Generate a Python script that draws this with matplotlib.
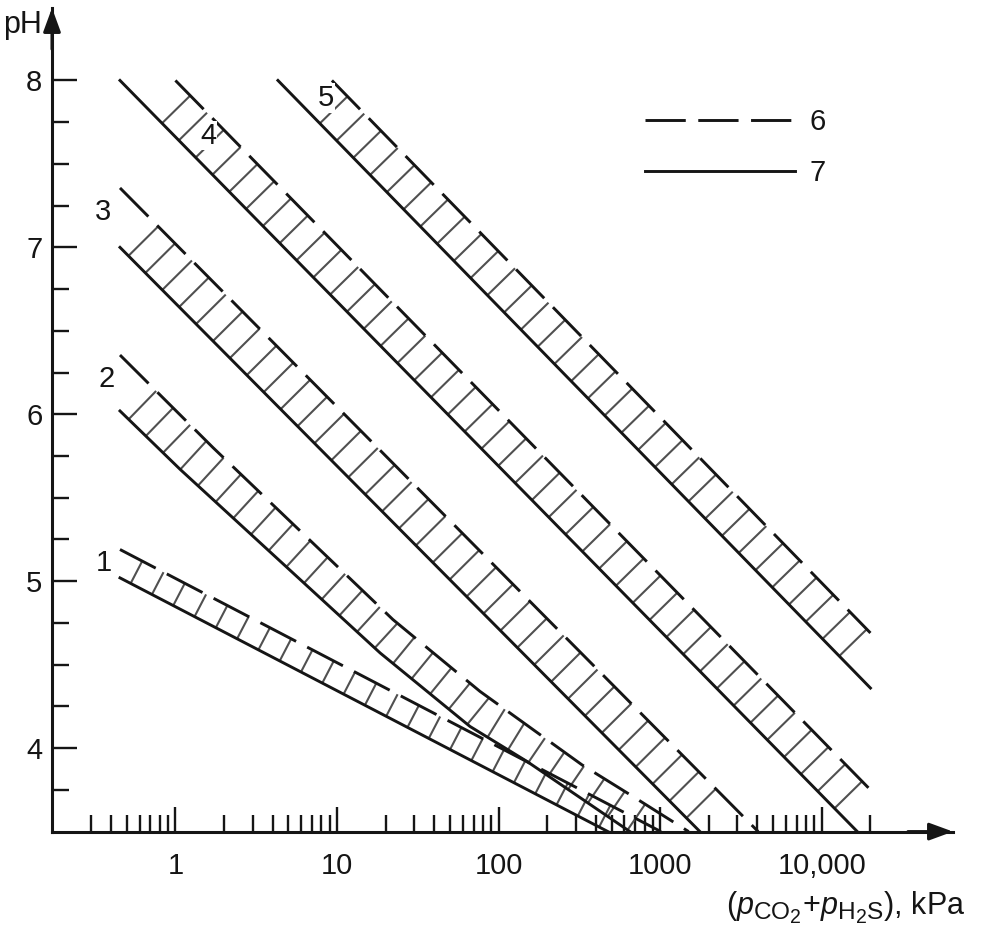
import numpy as np
import matplotlib
matplotlib.use('Agg')
import matplotlib.pyplot as plt
from matplotlib.collections import LineCollection
from matplotlib.lines import Line2D
from matplotlib.ticker import FixedLocator, FixedFormatter, NullFormatter

try:
    import matplotlib._mathtext as _mt
    _mt.SHRINK_FACTOR = 0.8
except Exception:
    pass

plt.rcParams['font.family'] = ['Liberation Sans', 'DejaVu Sans']
plt.rcParams['mathtext.fontset'] = 'custom'
plt.rcParams['mathtext.rm'] = 'Liberation Sans'
plt.rcParams['mathtext.it'] = 'Liberation Sans:italic'
plt.rcParams['lines.scale_dashes'] = False

# ---------------- data (pressure in kPa, pH) ----------------
band_labels = ['1', '2', '3', '4', '5']

b1_solid_p = [0.454, 475]
b1_solid_ph = [5.02, 3.5]
b1_dash_p = [0.454, 1010]
b1_dash_ph = [5.19, 3.5]

b2_solid_p = [0.454, 1.07, 18.5, 66.5, 150, 650]
b2_solid_ph = [6.02, 5.67, 4.57, 4.13, 3.92, 3.5]
b2_dash_p = [0.454, 1.71, 22.2, 76.7, 328, 679, 1500]
b2_dash_ph = [6.355, 5.80, 4.77, 4.34, 3.90, 3.71, 3.5]

b3_solid_p = [0.454, 1762]
b3_solid_ph = [7.0, 3.5]
b3_dash_p = [0.454, 4040]
b3_dash_ph = [7.356, 3.5]

b4_solid_p = [0.454, 20000]
b4_solid_ph = [8.0, 3.42]
b4_dash_p = [1.0, 20000]
b4_dash_ph = [8.0, 3.75]

b5_solid_p = [4.31, 20000]
b5_solid_ph = [8.0, 4.36]
b5_dash_p = [9.3, 20000]
b5_dash_ph = [8.0, 4.69]

label_p = [0.361, 0.377, 0.356, 1.60, 8.57]
label_ph = [5.11, 6.21, 7.21, 7.67, 7.895]

x_major = [1, 10, 100, 1000, 10000]
x_major_labels = ['1', '10', '100', '1000', '10,000']
y_major = [4, 5, 6, 7, 8]
y_minor = [3.75, 4.25, 4.5, 4.75, 5.25, 5.5, 5.75, 6.25, 6.5, 6.75, 7.25, 7.5, 7.75]
legend_labels = ['6', '7']

FS = 21

# ---------------- figure ----------------
W, H = 988, 938
fig = plt.figure(figsize=(W / 100, H / 100), dpi=100)
ax = fig.add_axes([52 / W, 1 - 831.6 / H, 901 / W, 823.6 / H])
ax.set_xscale('log')
ax.set_xlim(0.1723, 64860)
ax.set_ylim(3.5, 8.434)

for s in ['top', 'right']:
    ax.spines[s].set_visible(False)
for s in ['left', 'bottom']:
    ax.spines[s].set_linewidth(2.2)
    ax.spines[s].set_color('#151515')

minor_x = [k * 10.0 ** d for d in range(-1, 5) for k in range(2, 10)
           if 0.25 < k * 10.0 ** d <= 20000]
ax.xaxis.set_major_locator(FixedLocator(x_major))
ax.xaxis.set_major_formatter(FixedFormatter(x_major_labels))
ax.xaxis.set_minor_locator(FixedLocator(minor_x))
ax.xaxis.set_minor_formatter(NullFormatter())
ax.set_yticks(y_major)
ax.set_yticks(y_minor, minor=True)
ax.tick_params(which='major', direction='in', length=18, width=1.7, labelsize=FS,
               color='#151515', labelcolor='#151515')
ax.tick_params(which='minor', direction='in', length=12, width=1.7, color='#151515')
ax.tick_params(axis='x', pad=15)
ax.tick_params(axis='y', pad=7)

# axis arrows
arrow_kw = dict(arrowstyle='-|>,head_length=0.6,head_width=0.22', color='#151515', lw=2.2,
                shrinkA=0, shrinkB=0, mutation_scale=24)
ax.annotate('', xy=(0, 1), xytext=(0, 0.95), xycoords='axes fraction',
            arrowprops=arrow_kw, annotation_clip=False)
ax.annotate('', xy=(1, 0), xytext=(0.95, 0), xycoords='axes fraction',
            arrowprops=arrow_kw, annotation_clip=False)


def ladder(ax, sx, sy, dx, dy, spacing=24.0):
    T = ax.transData
    S = T.transform(np.column_stack([sx, sy]))
    D = T.transform(np.column_stack([dx, dy]))
    seg = np.diff(S, axis=0)
    segl = np.hypot(seg[:, 0], seg[:, 1])
    cum = np.r_[0, np.cumsum(segl)]
    out = []
    for s in np.arange(spacing * 0.5, cum[-1], spacing):
        i = int(np.clip(np.searchsorted(cum, s) - 1, 0, len(segl) - 1))
        f = (s - cum[i]) / segl[i]
        P = S[i] + f * seg[i]
        t = seg[i] / segl[i]
        n = np.array([-t[1], t[0]])
        if n[1] < 0:
            n = -n
        best = None
        for j in range(len(D) - 1):
            A, B = D[j], D[j + 1]
            e = B - A
            M = np.array([[n[0], -e[0]], [n[1], -e[1]]])
            if abs(np.linalg.det(M)) < 1e-9:
                continue
            u, v = np.linalg.solve(M, A - P)
            if u > 0 and -1e-6 <= v <= 1 + 1e-6:
                if best is None or u < best:
                    best = u
        if best is not None:
            Q = P + best * n
            out.append(T.inverted().transform(np.array([P, Q])))
    lc = LineCollection(out, colors='#505050', linewidths=1.5, zorder=2)
    ax.add_collection(lc)


bands = [
    (b1_solid_p, b1_solid_ph, b1_dash_p, b1_dash_ph),
    (b2_solid_p, b2_solid_ph, b2_dash_p, b2_dash_ph),
    (b3_solid_p, b3_solid_ph, b3_dash_p, b3_dash_ph),
    (b4_solid_p, b4_solid_ph, b4_dash_p, b4_dash_ph),
    (b5_solid_p, b5_solid_ph, b5_dash_p, b5_dash_ph),
]
for sp, sph, dp, dph in bands:
    ax.plot(sp, sph, color='#151515', lw=2.1, zorder=3)
    ax.plot(dp, dph, color='#151515', lw=2.1, dashes=(29, 9), zorder=3)
    ladder(ax, sp, sph, dp, dph)

for lab, p, ph in zip(band_labels, label_p, label_ph):
    ax.text(p, ph, lab, ha='center', va='center', fontsize=FS, zorder=5, color='#151515',
            bbox=dict(facecolor='white', edgecolor='none', pad=0.5))

h6 = Line2D([], [], color='#151515', lw=2.1, dashes=(29, 9))
h7 = Line2D([], [], color='#151515', lw=2.1)
leg = ax.legend([h6, h7], legend_labels, loc='upper left',
                bbox_to_anchor=(645 / W, 1 - 108 / H), bbox_transform=fig.transFigure,
                frameon=False, handlelength=5.15, handletextpad=0.5, labelspacing=0.8,
                borderpad=0, borderaxespad=0, fontsize=FS)
for t in leg.get_texts():
    t.set_color('#151515')

fig.text(965 / W, 1 - 915 / H,
         r'($\mathit{p}_{\mathrm{CO}_2}$+$\mathit{p}_{\mathrm{H}_2\mathrm{S}}$), kPa',
         ha='right', va='baseline', fontsize=FS + 1, color='#151515')
fig.text(42 / W, 1 - 33 / H, 'pH', ha='right', va='baseline', fontsize=FS + 1, color='#151515')

fig.savefig('out.png', dpi=100)
